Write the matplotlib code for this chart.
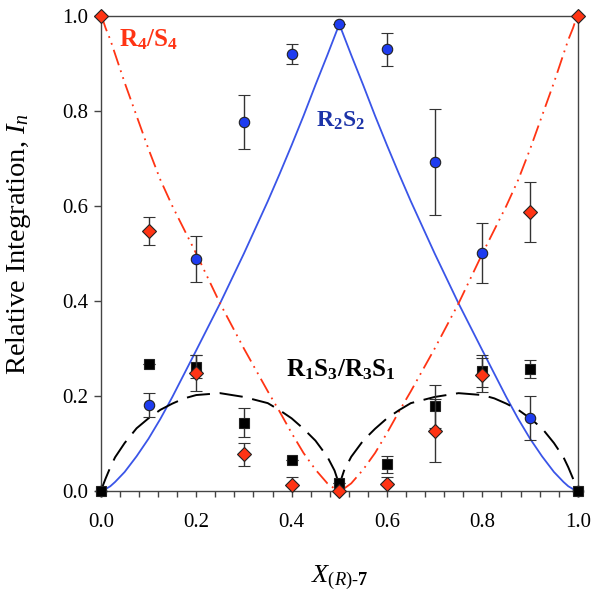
import numpy as np
import matplotlib
matplotlib.use("Agg")
import matplotlib.pyplot as plt
from matplotlib.ticker import MultipleLocator, FormatStrFormatter

plt.rcParams['font.family'] = ['Liberation Serif', 'DejaVu Serif']
plt.rcParams['mathtext.fontset'] = 'custom'
plt.rcParams['mathtext.rm'] = 'Liberation Serif'
plt.rcParams['mathtext.it'] = 'Liberation Serif:italic'
plt.rcParams['mathtext.bf'] = 'Liberation Serif:bold'

# model curves
curve_x = [0.0, 0.005, 0.01, 0.02, 0.03, 0.05, 0.075, 0.1, 0.125, 0.15, 0.175, 0.2, 0.25,
           0.3, 0.35, 0.375, 0.4, 0.425, 0.45, 0.475, 0.49, 0.495, 0.5,
           0.505, 0.51, 0.525, 0.55, 0.575, 0.6, 0.625, 0.65, 0.7, 0.75,
           0.8, 0.825, 0.85, 0.875, 0.9, 0.925, 0.95, 0.97, 0.98, 0.99, 0.995, 1.0]
r4s4_curve = [1.0, 0.99, 0.975, 0.95, 0.92, 0.86, 0.79, 0.72, 0.655, 0.60, 0.55, 0.50, 0.395,
              0.30, 0.21, 0.167, 0.122, 0.08, 0.045, 0.016, 0.005, 0.002, 0.0,
              0.002, 0.005, 0.016, 0.045, 0.08, 0.122, 0.167, 0.21, 0.30, 0.395,
              0.50, 0.55, 0.60, 0.655, 0.72, 0.79, 0.86, 0.92, 0.95, 0.975, 0.99, 1.0]
r2s2_curve = [0.0, 0.002, 0.004, 0.01, 0.019, 0.04, 0.073, 0.11, 0.152, 0.198, 0.247, 0.296, 0.395,
              0.50, 0.61, 0.668, 0.728, 0.79, 0.855, 0.918, 0.957, 0.97, 0.983,
              0.97, 0.957, 0.918, 0.855, 0.79, 0.728, 0.668, 0.61, 0.50, 0.395,
              0.296, 0.247, 0.198, 0.152, 0.11, 0.073, 0.04, 0.019, 0.01, 0.004, 0.002, 0.0]
r1s3_curve = [0.0, 0.013, 0.026, 0.05, 0.071, 0.101, 0.132, 0.153, 0.171, 0.184, 0.195, 0.202, 0.206,
              0.198, 0.185, 0.17, 0.153, 0.131, 0.106, 0.072, 0.043, 0.028, 0.0,
              0.028, 0.043, 0.072, 0.106, 0.131, 0.153, 0.17, 0.185, 0.198, 0.206,
              0.202, 0.195, 0.184, 0.171, 0.153, 0.132, 0.101, 0.071, 0.05, 0.026, 0.013, 0.0]

# measured points
x_meas = [0.0, 0.1, 0.2, 0.3, 0.4, 0.5, 0.6, 0.7, 0.8, 0.9, 1.0]
r2s2_val = [0.0, 0.181, 0.488, 0.777, 0.921, 0.983, 0.930, 0.693, 0.502, 0.154, 0.0]
r2s2_err = [0.0, 0.026, 0.048, 0.056, 0.021, 0.0, 0.034, 0.112, 0.063, 0.046, 0.0]
r1s3_val = [0.0, 0.267, 0.262, 0.144, 0.065, 0.016, 0.056, 0.178, 0.253, 0.257, 0.0]
r1s3_err = [0.0, 0.0, 0.025, 0.030, 0.0, 0.0, 0.018, 0.046, 0.033, 0.019, 0.0]
r4s4_val = [1.0, 0.548, 0.249, 0.077, 0.013, 0.0, 0.014, 0.127, 0.244, 0.587, 1.0]
r4s4_err = [0.0, 0.030, 0.038, 0.025, 0.017, 0.0, 0.016, 0.066, 0.035, 0.063, 0.0]

blue = '#1e3cf0'
red = '#ff3414'

fig = plt.figure(figsize=(6, 5.97), dpi=100)
ax = fig.add_axes([0.168, 0.1776, 0.795, 0.7954])

ax.plot(curve_x, r2s2_curve, '-', color='#3a55e8', lw=1.3, zorder=2)
ax.plot(curve_x, r4s4_curve, color=red, lw=1.3, dashes=(9, 3, 1, 3, 1, 3), zorder=2)
ax.plot(curve_x, r1s3_curve, color='black', lw=1.4, dashes=(12, 5), zorder=2)

ebkw = dict(ecolor='#333333', elinewidth=1.0, capsize=4, capthick=1.0, linestyle='none',
            markeredgecolor='#222222', markeredgewidth=0.8)
for vals, errs, fmt, ms, fc, z in [(r2s2_val, r2s2_err, 'o', 7.5, blue, 3),
                                   (r1s3_val, r1s3_err, 's', 7, 'black', 4),
                                   (r4s4_val, r4s4_err, 'D', 7, red, 5)]:
    cont = ax.errorbar(x_meas, vals, yerr=errs, fmt=fmt, markersize=ms, markerfacecolor=fc,
                       zorder=z, **ebkw)
    cont.lines[0].set_clip_on(False)

ax.text(0.10, 0.95, r'$\mathbf{R_4/S_4}$', color=red, fontsize=18, ha='center', va='center')
ax.text(0.503, 0.779, r'$\mathbf{R_2S_2}$', color='#1c33a8', fontsize=17, ha='center', va='center')
ax.text(0.503, 0.255, r'$\mathbf{R_1S_3/R_3S_1}$', color='black', fontsize=18, ha='center', va='center')

ax.set_xlim(0, 1)
ax.set_ylim(0, 1)
ax.xaxis.set_major_locator(MultipleLocator(0.2))
ax.xaxis.set_minor_locator(MultipleLocator(0.04))
ax.yaxis.set_major_locator(MultipleLocator(0.2))
ax.xaxis.set_major_formatter(FormatStrFormatter('%.1f'))
ax.yaxis.set_major_formatter(FormatStrFormatter('%.1f'))
ax.tick_params(axis='both', which='major', labelsize=15, length=5, width=1, color='#444444')
ax.tick_params(axis='x', which='major', pad=12, length=4)
ax.tick_params(axis='y', which='major', pad=4)
ax.tick_params(axis='x', which='minor', length=4, width=1, color='#444444')
for sp in ax.spines.values():
    sp.set_color('#444444')
    sp.set_linewidth(1.0)

ax.set_ylabel('Relative Integration, $I_n$', fontsize=20.5)
ax.yaxis.set_label_coords(-0.143, 0.52)
ax.set_xlabel(r'$X_{(R)\text{-}\mathbf{7}}$', fontsize=19)
ax.xaxis.set_label_coords(0.5, -0.152)

fig.savefig('out.png', dpi=100)
